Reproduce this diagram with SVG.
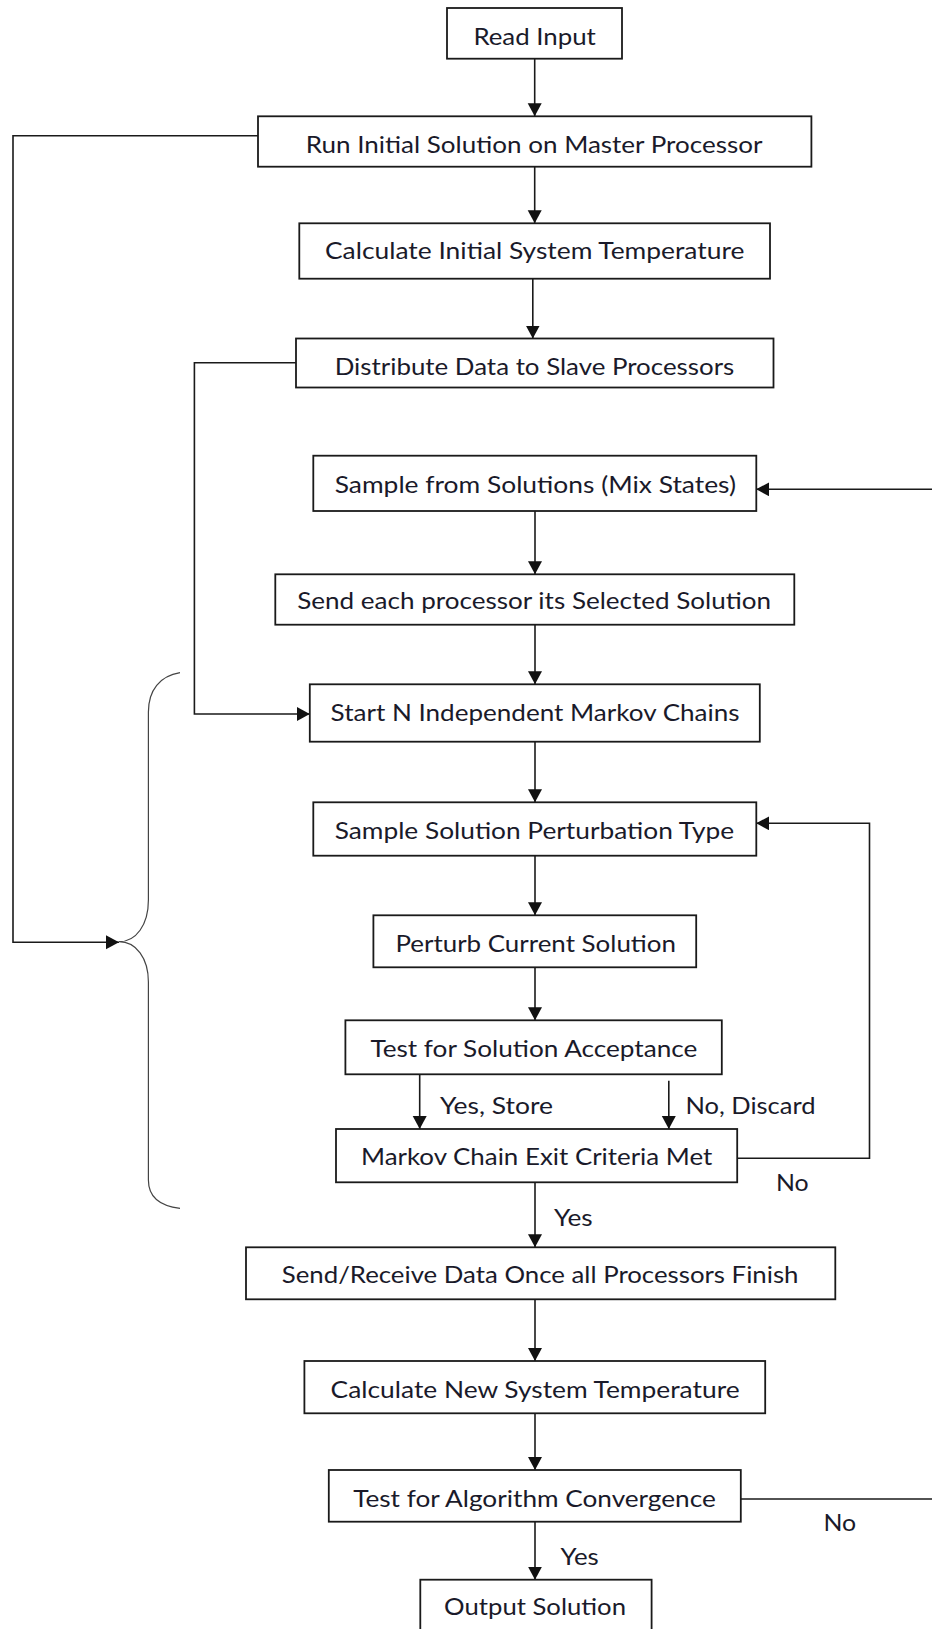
<svg xmlns="http://www.w3.org/2000/svg" width="932" height="1629" viewBox="0 0 932 1629">
<style>
.box{fill:#fff;stroke:#1a1a1a;stroke-width:1.8}
.t{font-family:Lato,"Open Sans","Liberation Sans",sans-serif;font-size:23px;fill:#1a1a2a}
.c{fill:none;stroke:#1a1a1a;stroke-width:1.6}
.br{fill:none;stroke:#444;stroke-width:1.2}
</style>
<defs>
<marker id="ah" markerUnits="userSpaceOnUse" markerWidth="15" markerHeight="15" refX="13" refY="7" orient="auto">
<path d="M0,0 L13,7 L0,14 z" fill="#111"/>
</marker>
</defs>
<rect width="932" height="1629" fill="#fff"/>
<g id="connectors">
<path class="c" d="M534.7,58.7 V116.3" marker-end="url(#ah)"/>
<path class="c" d="M534.7,166.7 V223.3" marker-end="url(#ah)"/>
<path class="c" d="M532.8,278.7 V338.5" marker-end="url(#ah)"/>
<path class="c" d="M258,135.7 H13 V942.3 H119" marker-end="url(#ah)"/>
<path class="c" d="M296,362.7 H194.4 V714 H309.8" marker-end="url(#ah)"/>
<path class="c" d="M940,489.3 H756.2" marker-end="url(#ah)"/>
<path class="c" d="M535,511 V574.3" marker-end="url(#ah)"/>
<path class="c" d="M535,624.7 V684.3" marker-end="url(#ah)"/>
<path class="c" d="M535,741.7 V802.3" marker-end="url(#ah)"/>
<path class="c" d="M535,855.7 V915.3" marker-end="url(#ah)"/>
<path class="c" d="M535,967.3 V1020.3" marker-end="url(#ah)"/>
<path class="c" d="M419.7,1074.3 V1129" marker-end="url(#ah)"/>
<path class="c" d="M668.8,1080.7 V1129" marker-end="url(#ah)"/>
<path class="c" d="M737.2,1158.3 H869.5 V823.3 H756.2" marker-end="url(#ah)"/>
<path class="c" d="M535,1182.3 V1247.3" marker-end="url(#ah)"/>
<path class="c" d="M535,1299.3 V1361" marker-end="url(#ah)"/>
<path class="c" d="M535,1413.3 V1470" marker-end="url(#ah)"/>
<path class="c" d="M740.8,1499 H940"/>
<path class="c" d="M535,1521.7 V1579.7" marker-end="url(#ah)"/>
<path class="br" d="M180,672.7 C160,676 148.4,690 148.4,712 L148.4,900 C148.4,925 136,941.7 119,941.7 C136,941.7 148.4,958 148.4,982 L148.4,1180 C148.4,1198 160,1206 180,1208.3"/>
<text class="t" x="440" y="1114" textLength="113" lengthAdjust="spacingAndGlyphs">Yes, Store</text>
<text class="t" x="685.5" y="1114" textLength="130" lengthAdjust="spacingAndGlyphs">No, Discard</text>
<text class="t" x="776" y="1191" textLength="32.7" lengthAdjust="spacingAndGlyphs">No</text>
<text class="t" x="554" y="1225.7" textLength="38.7" lengthAdjust="spacingAndGlyphs">Yes</text>
<text class="t" x="823.4" y="1530.7" textLength="32.7" lengthAdjust="spacingAndGlyphs">No</text>
<text class="t" x="560.6" y="1565" textLength="38.1" lengthAdjust="spacingAndGlyphs">Yes</text>
</g>
<g id="n1"><rect class="box" x="447" y="8" width="175" height="50.7"/><text class="t" x="473.4" y="45" textLength="122.5" lengthAdjust="spacingAndGlyphs">Read Input</text></g>
<g id="n2"><rect class="box" x="258" y="116.3" width="553.4" height="50.4"/><text class="t" x="305.8" y="153" textLength="456.6" lengthAdjust="spacingAndGlyphs">Run Initial Solution on Master Processor</text></g>
<g id="n3"><rect class="box" x="299.3" y="223.3" width="470.7" height="55.4"/><text class="t" x="325" y="259.3" textLength="419.4" lengthAdjust="spacingAndGlyphs">Calculate Initial System Temperature</text></g>
<g id="n4"><rect class="box" x="296" y="338.5" width="477.5" height="49"/><text class="t" x="334.7" y="375" textLength="399.5" lengthAdjust="spacingAndGlyphs">Distribute Data to Slave Processors</text></g>
<g id="n5"><rect class="box" x="313.3" y="455.7" width="443" height="55.3"/><text class="t" x="334.7" y="492.5" textLength="401.3" lengthAdjust="spacingAndGlyphs">Sample from Solutions (Mix States)</text></g>
<g id="n6"><rect class="box" x="275.3" y="574.3" width="519" height="50.4"/><text class="t" x="297.3" y="609.3" textLength="473.8" lengthAdjust="spacingAndGlyphs">Send each processor its Selected Solution</text></g>
<g id="n7"><rect class="box" x="309.8" y="684.3" width="450" height="57.4"/><text class="t" x="330.6" y="721" textLength="409" lengthAdjust="spacingAndGlyphs">Start N Independent Markov Chains</text></g>
<g id="n8"><rect class="box" x="313.3" y="802.3" width="443" height="53.4"/><text class="t" x="334.7" y="838.7" textLength="399.5" lengthAdjust="spacingAndGlyphs">Sample Solution Perturbation Type</text></g>
<g id="n9"><rect class="box" x="373.4" y="915.3" width="322.8" height="52"/><text class="t" x="395.4" y="951.7" textLength="280.6" lengthAdjust="spacingAndGlyphs">Perturb Current Solution</text></g>
<g id="n10"><rect class="box" x="345.4" y="1020.3" width="376.4" height="54"/><text class="t" x="370.4" y="1057.3" textLength="327" lengthAdjust="spacingAndGlyphs">Test for Solution Acceptance</text></g>
<g id="n11"><rect class="box" x="336" y="1129" width="401.2" height="53.3"/><text class="t" x="361" y="1165" textLength="351.3" lengthAdjust="spacingAndGlyphs">Markov Chain Exit Criteria Met</text></g>
<g id="n12"><rect class="box" x="246" y="1247.3" width="589.3" height="52"/><text class="t" x="281.8" y="1282.7" textLength="516.7" lengthAdjust="spacingAndGlyphs">Send/Receive Data Once all Processors Finish</text></g>
<g id="n13"><rect class="box" x="304.4" y="1361" width="460.8" height="52.3"/><text class="t" x="330.6" y="1397.7" textLength="409" lengthAdjust="spacingAndGlyphs">Calculate New System Temperature</text></g>
<g id="n14"><rect class="box" x="328.8" y="1470" width="412" height="51.7"/><text class="t" x="353.2" y="1506.7" textLength="362.6" lengthAdjust="spacingAndGlyphs">Test for Algorithm Convergence</text></g>
<g id="n15"><rect class="box" x="420.3" y="1579.7" width="231.3" height="60"/><text class="t" x="444.1" y="1614.5" textLength="181.9" lengthAdjust="spacingAndGlyphs">Output Solution</text></g>
</svg>
